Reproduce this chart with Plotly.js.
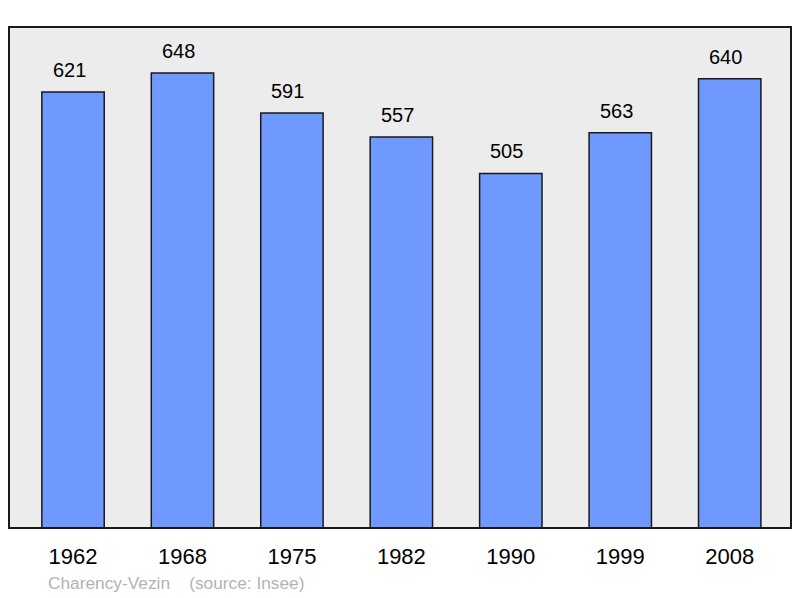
<!DOCTYPE html>
<html>
<head>
<meta charset="utf-8">
<script src="https://cdn.plot.ly/plotly-3.0.1.min.js"></script>
<style>
  body { margin: 0; background: #ffffff; }
  #chart { width: 800px; height: 598px; }
</style>
</head>
<body>
<div id="chart"></div>
<script>
var years = ["1962", "1968", "1975", "1982", "1990", "1999", "2008"];
var population = [621, 648, 591, 557, 505, 563, 640];
var caption = "Charency-Vezin \u00a0\u00a0\u00a0(source: Insee)";

var barsTrace = {
    x: years,
    y: population,
    type: "bar",
    width: 0.57,
    marker: {
        color: "#7099ff",
        line: { color: "#1a1a1a", width: 1.5 },
    },
    hoverinfo: "none",
};

var labels = [];
for (var i = 0; i < years.length; i++) {
    labels.push({
        x: i,
        y: population[i],
        xref: "x",
        yref: "y",
        text: String(population[i]),
        showarrow: false,
        yanchor: "bottom",
        yshift: 9,
        xshift: -4,
        font: { family: "Liberation Sans, Arial, sans-serif", size: 20, color: "#000000" },
    });
}

labels.push({
    x: 0.047,
    y: -0.11,
    xref: "paper",
    yref: "paper",
    xanchor: "left",
    yanchor: "middle",
    text: caption,
    showarrow: false,
    font: { family: "Liberation Sans, Arial, sans-serif", size: 17.3, color: "#b3b3b3" },
});

var layout = {
    width: 800,
    height: 598,
    showlegend: false,
    paper_bgcolor: "#ffffff",
    plot_bgcolor: "#ececec",
    margin: { l: 9, r: 9, t: 27, b: 70, pad: 0 },
    xaxis: {
        type: "category",
        range: [-0.585, 6.56],
        showgrid: false,
        zeroline: false,
        showline: false,
        ticks: "",
        tickfont: { family: "Liberation Sans, Arial, sans-serif", size: 22, color: "#000000" },
        ticklabelstandoff: 13,
    },
    yaxis: {
        range: [0, 713.6],
        showgrid: false,
        zeroline: false,
        showline: false,
        showticklabels: false,
        ticks: "",
    },
    annotations: labels,
    shapes: [
        {
            type: "rect",
            xref: "paper",
            yref: "paper",
            x0: 0,
            x1: 1,
            y0: 0,
            y1: 1,
            line: { color: "#1a1a1a", width: 2 },
            layer: "above",
        },
    ],
};

Plotly.newPlot("chart", [barsTrace], layout, { staticPlot: true });
</script>
</body>
</html>
